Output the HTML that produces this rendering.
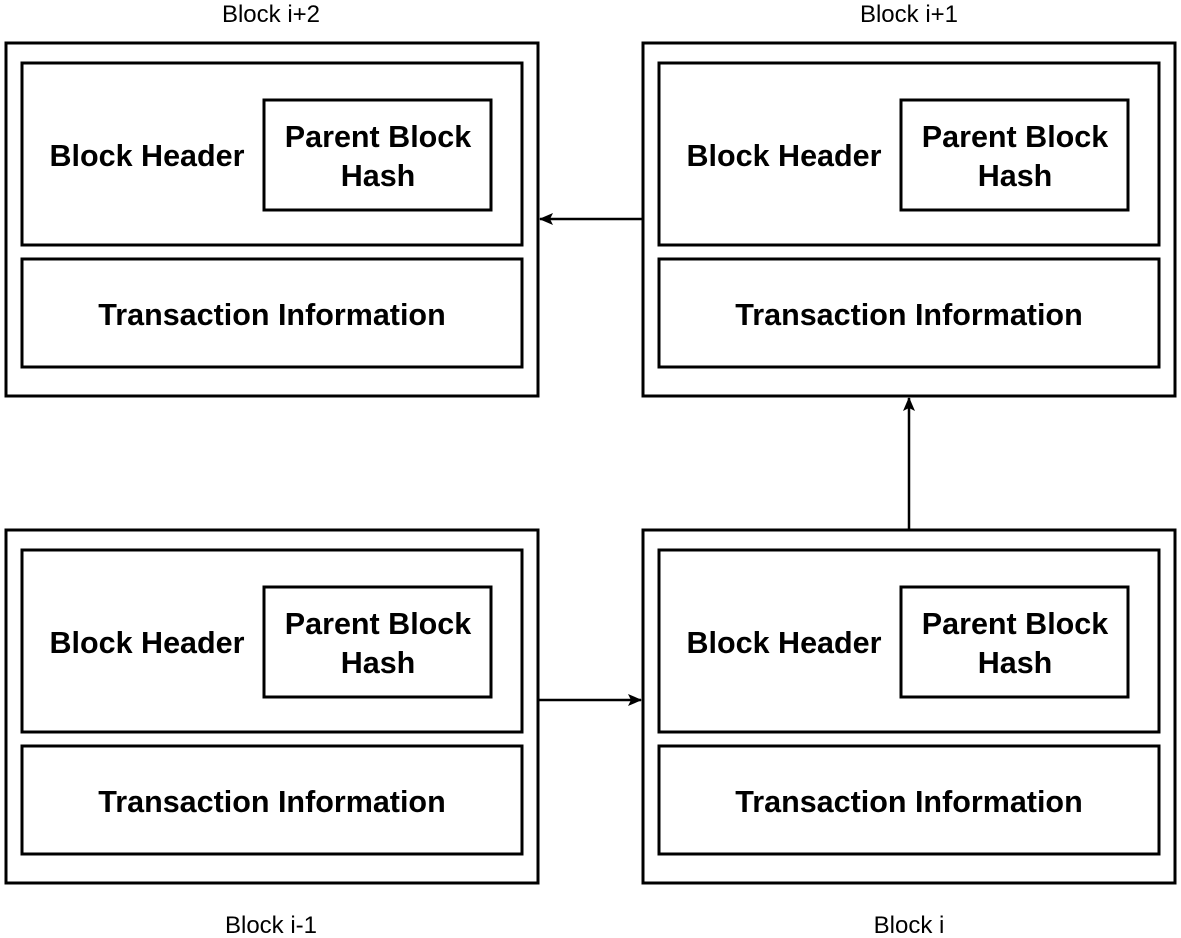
<!DOCTYPE html>
<html><head><meta charset="utf-8"><style>
html,body{margin:0;padding:0;background:#fff;}
svg{display:block;}
text{font-family:"Liberation Sans",Arial,sans-serif;fill:#000;}
.b{font-weight:bold;font-size:30.5px;}
.l{font-size:24px;}
</style></head><body>
<svg width="1181" height="938" viewBox="0 0 1181 938" xmlns="http://www.w3.org/2000/svg">
<defs>
<marker id="ah" markerWidth="14" markerHeight="14" refX="13" refY="7" orient="auto" markerUnits="userSpaceOnUse">
<path d="M0,1 L14,7 L0,13 L3,7 Z" fill="#000"/>
</marker>
<g id="blk" fill="none" stroke="#000" stroke-width="3">
<rect x="6" y="0" width="532" height="353"/>
<rect x="22" y="20" width="500" height="182"/>
<rect x="264" y="57" width="227" height="110"/>
<rect x="22" y="216" width="500" height="108"/>
</g>
<g id="txt">
<text class="b" x="147" y="123" text-anchor="middle">Block Header</text>
<text class="b" x="378" y="104" text-anchor="middle">Parent Block</text>
<text class="b" x="378" y="143" text-anchor="middle">Hash</text>
<text class="b" x="272" y="282" text-anchor="middle">Transaction Information</text>
</g>
</defs>
<use href="#blk" x="0" y="43"/><use href="#txt" x="0" y="43"/>
<use href="#blk" x="637" y="43"/><use href="#txt" x="637" y="43"/>
<use href="#blk" x="0" y="530"/><use href="#txt" x="0" y="530"/>
<use href="#blk" x="637" y="530"/><use href="#txt" x="637" y="530"/>
<text class="l" x="271" y="22" text-anchor="middle">Block i+2</text>
<text class="l" x="909" y="22" text-anchor="middle">Block i+1</text>
<text class="l" x="271" y="933" text-anchor="middle">Block i-1</text>
<text class="l" x="909" y="933" text-anchor="middle">Block i</text>
<g stroke="#000" stroke-width="2.5">
<line x1="642" y1="219" x2="540" y2="219" marker-end="url(#ah)"/>
<line x1="539" y1="700" x2="641" y2="700" marker-end="url(#ah)"/>
<line x1="909" y1="529" x2="909" y2="398" marker-end="url(#ah)"/>
</g>
</svg>
</body></html>
